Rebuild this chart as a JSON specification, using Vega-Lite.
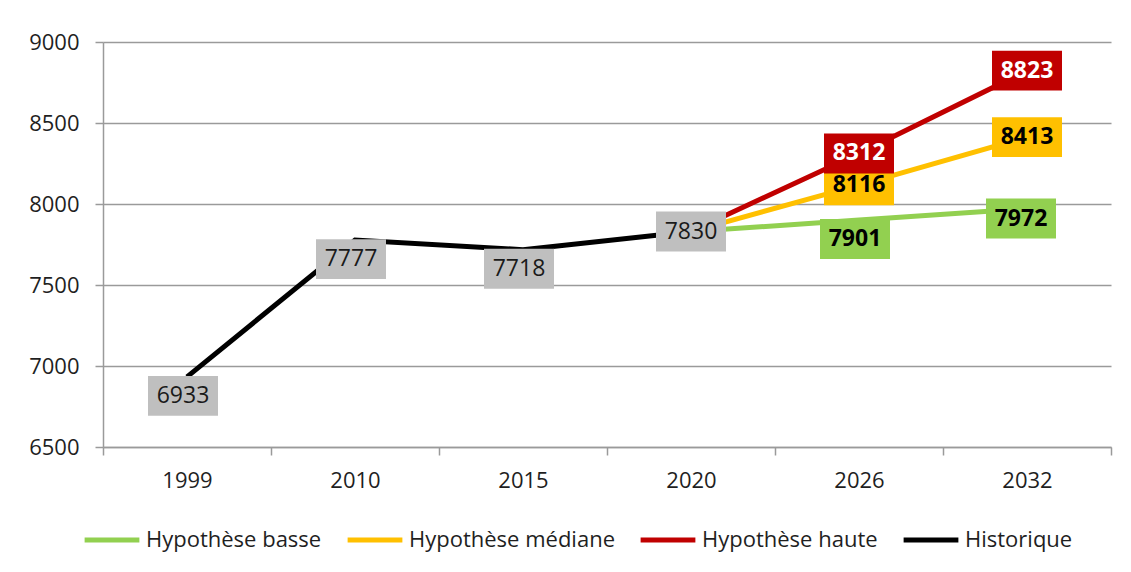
{
  "$schema": "https://vega.github.io/schema/vega-lite/v6.json",
  "width": 1008,
  "height": 405,
  "autosize": {"type": "none"},
  "padding": {"left": 103, "top": 42, "right": 20, "bottom": 125},
  "background": "white",
  "config": {
    "view": {"stroke": null},
    "font": "Open Sans",
    "axis": {
      "labelFont": "Open Sans",
      "labelFontSize": 22,
      "labelColor": "#1f1f1f",
      "domainColor": "#9a9a9a",
      "domainWidth": 1.5,
      "tickColor": "#9a9a9a",
      "tickWidth": 1.5,
      "tickSize": 8,
      "gridColor": "#9a9a9a",
      "gridWidth": 1.5
    },
    "legend": {
      "labelFont": "Open Sans",
      "labelFontSize": 22,
      "labelColor": "#1f1f1f",
      "labelLimit": 0
    }
  },
  "datasets": {
    "series": [
      {"serie": "Hypothèse basse", "year": "2020", "value": 7830},
      {"serie": "Hypothèse basse", "year": "2026", "value": 7901},
      {"serie": "Hypothèse basse", "year": "2032", "value": 7972},
      {"serie": "Hypothèse médiane", "year": "2020", "value": 7830},
      {"serie": "Hypothèse médiane", "year": "2026", "value": 8116},
      {"serie": "Hypothèse médiane", "year": "2032", "value": 8413},
      {"serie": "Hypothèse haute", "year": "2020", "value": 7830},
      {"serie": "Hypothèse haute", "year": "2026", "value": 8312},
      {"serie": "Hypothèse haute", "year": "2032", "value": 8823},
      {"serie": "Historique", "year": "1999", "value": 6933},
      {"serie": "Historique", "year": "2010", "value": 7777},
      {"serie": "Historique", "year": "2015", "value": 7718},
      {"serie": "Historique", "year": "2020", "value": 7830}
    ]
  },
  "data": {"name": "series"},
  "encoding": {
    "x": {
      "field": "year",
      "type": "ordinal",
      "sort": ["1999", "2010", "2015", "2020", "2026", "2032"],
      "scale": {"type": "band", "paddingInner": 0, "paddingOuter": 0},
      "axis": {"title": null, "labelAngle": 0, "tickBand": "extent", "grid": false, "labelPadding": 15}
    },
    "y": {
      "field": "value",
      "type": "quantitative",
      "scale": {"domain": [6500, 9000], "nice": false, "zero": false},
      "axis": {"title": null, "values": [6500, 7000, 7500, 8000, 8500, 9000], "format": "d", "grid": true, "labelPadding": 16}
    }
  },
  "layer": [
    {
      "transform": [{"filter": "datum.serie !== 'Historique'"}],
      "mark": {"type": "line", "strokeWidth": 5},
      "encoding": {
        "color": {
          "field": "serie",
          "type": "nominal",
          "scale": {
            "domain": ["Hypothèse basse", "Hypothèse médiane", "Hypothèse haute", "Historique"],
            "range": ["#92D050", "#FFC000", "#C00000", "#000000"]
          },
          "legend": {
            "title": null,
            "orient": "none",
            "direction": "horizontal",
            "legendX": -21,
            "legendY": 468,
            "symbolType": "stroke",
            "symbolStrokeWidth": 5,
            "symbolSize": 3000,
            "columnPadding": 15,
            "labelOffset": 4
          }
        }
      }
    },
    {
      "transform": [{"filter": "datum.serie === 'Historique'"}],
      "mark": {"type": "line", "strokeWidth": 5},
      "encoding": {"color": {"field": "serie", "type": "nominal"}}
    },
    {
      "transform": [{"filter": "(datum.serie === 'Historique' && datum.year === '2020') || ((datum.serie === 'Hypothèse médiane' || datum.serie === 'Hypothèse haute') && datum.year !== '2020')"}],
      "mark": {"type": "point", "shape": "M-1,-0.57H1V0.57H-1Z", "filled": true, "opacity": 1, "size": 4900, "strokeWidth": 0},
      "encoding": {
        "fill": {
          "field": "serie",
          "type": "nominal",
          "scale": {
            "domain": ["Hypothèse basse", "Hypothèse médiane", "Hypothèse haute", "Historique"],
            "range": ["#92D050", "#FFC000", "#C00000", "#BFBFBF"]
          },
          "legend": null
        }
      }
    },
    {
      "transform": [{"filter": "datum.serie === 'Hypothèse basse' && datum.year === '2032'"}],
      "mark": {"type": "point", "shape": "M-1,-0.57H1V0.57H-1Z", "filled": true, "opacity": 1, "size": 4900, "strokeWidth": 0, "yOffset": 10, "xOffset": -6},
      "encoding": {"fill": {"field": "serie", "type": "nominal", "legend": null}}
    },
    {
      "transform": [{"filter": "(datum.serie === 'Historique' && datum.year !== '2020') || (datum.serie === 'Hypothèse basse' && datum.year === '2026')"}],
      "mark": {"type": "point", "shape": "M-1,-0.57H1V0.57H-1Z", "filled": true, "opacity": 1, "size": 4900, "strokeWidth": 0, "yOffset": 19, "xOffset": -4},
      "encoding": {"fill": {"field": "serie", "type": "nominal", "legend": null}}
    },
    {
      "transform": [{"filter": "datum.serie === 'Historique' && datum.year === '2020'"}],
      "mark": {"type": "text", "fontSize": 23, "font": "Open Sans", "baseline": "middle", "align": "center", "color": "#1a1a1a"},
      "encoding": {"text": {"field": "value", "type": "quantitative", "format": "d"}}
    },
    {
      "transform": [{"filter": "(datum.serie === 'Hypothèse médiane' || datum.serie === 'Hypothèse haute') && datum.year !== '2020'"}],
      "mark": {"type": "text", "fontSize": 23, "font": "Open Sans", "fontWeight": "bold", "baseline": "middle", "align": "center"},
      "encoding": {
        "text": {"field": "value", "type": "quantitative", "format": "d"},
        "color": {"condition": {"test": "datum.serie === 'Hypothèse haute'", "value": "white"}, "value": "black"}
      }
    },
    {
      "transform": [{"filter": "datum.serie === 'Hypothèse basse' && datum.year === '2032'"}],
      "mark": {"type": "text", "fontSize": 23, "font": "Open Sans", "fontWeight": "bold", "baseline": "middle", "align": "center", "color": "black", "yOffset": 10, "xOffset": -6},
      "encoding": {"text": {"field": "value", "type": "quantitative", "format": "d"}}
    },
    {
      "transform": [{"filter": "datum.serie === 'Historique' && datum.year !== '2020'"}],
      "mark": {"type": "text", "fontSize": 23, "font": "Open Sans", "baseline": "middle", "align": "center", "color": "#1a1a1a", "yOffset": 19, "xOffset": -4},
      "encoding": {"text": {"field": "value", "type": "quantitative", "format": "d"}}
    },
    {
      "transform": [{"filter": "datum.serie === 'Hypothèse basse' && datum.year === '2026'"}],
      "mark": {"type": "text", "fontSize": 23, "font": "Open Sans", "fontWeight": "bold", "baseline": "middle", "align": "center", "color": "black", "yOffset": 19, "xOffset": -4},
      "encoding": {"text": {"field": "value", "type": "quantitative", "format": "d"}}
    }
  ]
}
